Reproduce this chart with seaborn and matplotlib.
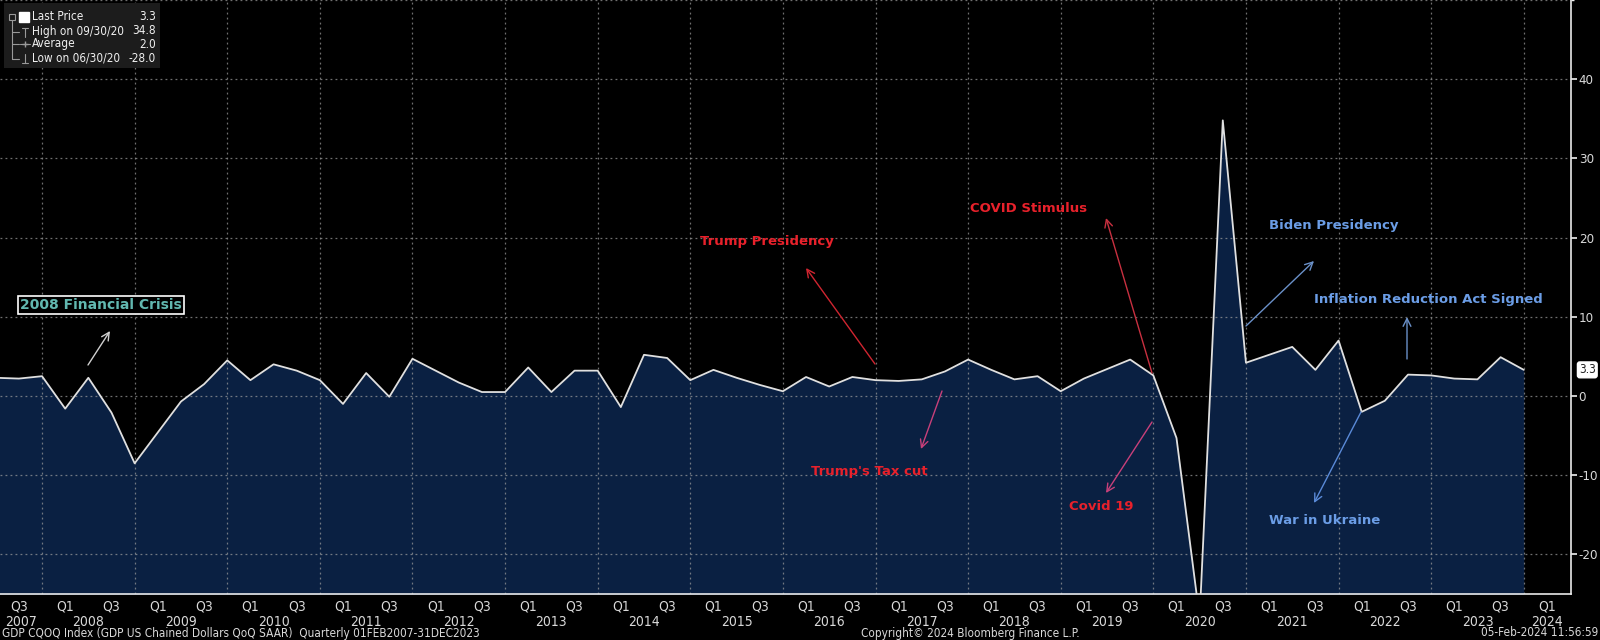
import numpy as np
import pandas as pd
import matplotlib
matplotlib.use("Agg")
import matplotlib.pyplot as plt
import seaborn as sns
from matplotlib.patches import Rectangle
from matplotlib.lines import Line2D
from matplotlib.ticker import FixedLocator

# ---------------- data ----------------
quarters = ["2007Q2", "2007Q3", "2007Q4",
            "2008Q1", "2008Q2", "2008Q3", "2008Q4",
            "2009Q1", "2009Q2", "2009Q3", "2009Q4",
            "2010Q1", "2010Q2", "2010Q3", "2010Q4",
            "2011Q1", "2011Q2", "2011Q3", "2011Q4",
            "2012Q1", "2012Q2", "2012Q3", "2012Q4",
            "2013Q1", "2013Q2", "2013Q3", "2013Q4",
            "2014Q1", "2014Q2", "2014Q3", "2014Q4",
            "2015Q1", "2015Q2", "2015Q3", "2015Q4",
            "2016Q1", "2016Q2", "2016Q3", "2016Q4",
            "2017Q1", "2017Q2", "2017Q3", "2017Q4",
            "2018Q1", "2018Q2", "2018Q3", "2018Q4",
            "2019Q1", "2019Q2", "2019Q3", "2019Q4",
            "2020Q1", "2020Q2", "2020Q3", "2020Q4",
            "2021Q1", "2021Q2", "2021Q3", "2021Q4",
            "2022Q1", "2022Q2", "2022Q3", "2022Q4",
            "2023Q1", "2023Q2", "2023Q3", "2023Q4"]
gdp_qoq = [2.3, 2.2, 2.5,
           -1.6, 2.3, -2.1, -8.5,
           -4.6, -0.7, 1.5, 4.5,
           2.0, 4.0, 3.2, 2.0,
           -1.0, 2.9, -0.1, 4.7,
           3.2, 1.7, 0.5, 0.5,
           3.6, 0.5, 3.2, 3.2,
           -1.4, 5.2, 4.8, 2.0,
           3.3, 2.3, 1.4, 0.6,
           2.4, 1.2, 2.4, 2.0,
           1.9, 2.1, 3.1, 4.6,
           3.3, 2.1, 2.5, 0.6,
           2.2, 3.4, 4.6, 2.6,
           -5.3, -28.0, 34.8, 4.2,
           5.2, 6.2, 3.3, 7.0,
           -2.0, -0.6, 2.7, 2.6,
           2.2, 2.1, 4.9, 3.3]
year_labels = list(range(2007, 2025))
y_ticks = [-20, -10, 0, 10, 20, 30, 40]
legend_rows = [("Last Price", "3.3"), ("High on 09/30/20", "34.8"),
               ("Average", "2.0"), ("Low on 06/30/20", "-28.0")]
last_price_label = "3.3"

def q_end(q):
    y, n = int(q[:4]), int(q[-1])
    return y + n * 0.25

df = pd.DataFrame({"t": [q_end(q) for q in quarters], "gdp": gdp_qoq})

# ---------------- style ----------------
sns.set_theme(style="dark")
plt.rcParams["font.family"] = ["DejaVu Sans"]
plt.rcParams["font.stretch"] = "condensed"
plt.rcParams["axes.unicode_minus"] = False
BOLD = ["DejaVu Sans"]

BG = "#000000"
FILL = "#0a2042"
TXT = "#d9d9d9"

fig = plt.figure(figsize=(16, 6.4), dpi=100, facecolor=BG)
ax = fig.add_axes([0, 1 - 594 / 640, 1571 / 1600, 594 / 640])
ax.set_facecolor(BG)

ax.fill_between(df["t"], df["gdp"], -40, color=FILL, zorder=1, linewidth=0)
sns.lineplot(data=df, x="t", y="gdp", ax=ax, color="#e0e0e0", linewidth=1.3,
             zorder=3, legend=False)

ax.set_xlim(2007.546, 2024.51)
ax.set_ylim(-25, 50)

ax.grid(False)
for v in range(-20, 51, 10):
    ax.axhline(v, color="#a0a0a0", linestyle=(0, (1.5, 2.5)), linewidth=0.9,
               alpha=0.7, zorder=2)
for yr in year_labels[1:]:
    ax.axvline(yr, color="#a0a0a0", linestyle=(0, (1.5, 2.5)), linewidth=0.9,
               alpha=0.7, zorder=2)

for s in ["left", "top"]:
    ax.spines[s].set_visible(False)
for s in ["right", "bottom"]:
    ax.spines[s].set_visible(True)
    ax.spines[s].set_color("#e8e8e8")
    ax.spines[s].set_linewidth(1.2)

ax.yaxis.tick_right()
ax.yaxis.set_major_locator(FixedLocator(y_ticks))
ax.yaxis.set_minor_locator(FixedLocator([v + 5 for v in range(-25, 50, 10)]))
ax.tick_params(axis="y", which="major", direction="out", length=4, width=1.2,
               colors="#f0f0f0", labelcolor=TXT, labelsize=9.5, pad=1.5)
ax.tick_params(axis="y", which="minor", direction="out", length=2, width=1,
               colors="#f0f0f0")
ax.set_ylabel("")
ax.set_xlabel("")

q_pos, q_lab = [], []
for yr in year_labels:
    for n, lab in [(1, "Q1"), (3, "Q3")]:
        p = yr + n * 0.25
        if 2007.546 < p < 2024.51:
            q_pos.append(p)
            q_lab.append(lab)
ax.set_xticks(q_pos)
ax.set_xticklabels(q_lab)
ax.xaxis.set_minor_locator(FixedLocator(year_labels[1:]))
ax.tick_params(axis="x", which="major", direction="out", length=3, width=1,
               colors="#e8e8e8", labelcolor=TXT, labelsize=10, pad=1)
ax.tick_params(axis="x", which="minor", direction="out", length=21, width=1,
               colors="#8a8a8a")

trans = ax.get_xaxis_transform()
lo, hi = ax.get_xlim()
for yr in year_labels:
    a, b = max(yr, lo), min(yr + 1, hi)
    ax.text((a + b) / 2, -0.036, str(yr), transform=trans, ha="center",
            va="top", color=TXT, fontsize=10, clip_on=False)

ax.text(1.005, 3.3, last_price_label, transform=ax.get_yaxis_transform(),
        ha="left", va="center", fontsize=8.5, color="#222222",
        bbox=dict(boxstyle="round,pad=0.12,rounding_size=0.2", fc="white", ec="white"))

fig.text(2 / 1600, 1 - 633 / 640,
         "GDP CQOQ Index (GDP US Chained Dollars QoQ SAAR)  Quarterly 01FEB2007-31DEC2023",
         ha="left", va="center", color=TXT, fontsize=8.5)
fig.text(861 / 1600, 1 - 633 / 640, "Copyright\u00a9 2024 Bloomberg Finance L.P.",
         ha="left", va="center", color=TXT, fontsize=8.5)
fig.text(1598 / 1600, 1 - 633 / 640, "05-Feb-2024 11:56:59",
         ha="right", va="center", color=TXT, fontsize=8.5)

def F(px, py):
    return (px / 1600, 1 - py / 640)

fig.patches.append(Rectangle(F(4, 68), 156 / 1600, 65 / 640,
                             transform=fig.transFigure, fc="#1c1c1c",
                             ec="none", zorder=5))
gl = "#9a9a9a"
fig.lines.append(Line2D([12 / 1600, 12 / 1600], [F(0, 20)[1], F(0, 59)[1]],
                        transform=fig.transFigure, color=gl, lw=0.8, zorder=6))
for yy in [32, 44, 59]:
    fig.lines.append(Line2D([12 / 1600, 19 / 1600], [F(0, yy)[1]] * 2,
                            transform=fig.transFigure, color=gl, lw=0.8, zorder=6))
fig.patches.append(Rectangle(F(9, 20), 6 / 1600, 6 / 640, transform=fig.transFigure,
                             fc="none", ec=gl, lw=0.8, zorder=6))
fig.patches.append(Rectangle(F(19, 22), 10 / 1600, 10 / 640, transform=fig.transFigure,
                             fc="white", ec="white", zorder=6))
fig.lines.append(Line2D([22 / 1600, 28 / 1600], [F(0, 28)[1]] * 2,
                        transform=fig.transFigure, color=gl, lw=0.8, zorder=6))
fig.lines.append(Line2D([25 / 1600, 25 / 1600], [F(0, 28)[1], F(0, 37)[1]],
                        transform=fig.transFigure, color=gl, lw=0.8, zorder=6))
fig.lines.append(Line2D([20 / 1600, 30 / 1600], [F(0, 44)[1]] * 2,
                        transform=fig.transFigure, color=gl, lw=0.8, zorder=6))
fig.lines.append(Line2D([25 / 1600], [F(0, 44)[1]], transform=fig.transFigure,
                        color=gl, marker="+", ms=4, zorder=6))
fig.lines.append(Line2D([22 / 1600, 28 / 1600], [F(0, 63)[1]] * 2,
                        transform=fig.transFigure, color=gl, lw=0.8, zorder=6))
fig.lines.append(Line2D([25 / 1600, 25 / 1600], [F(0, 54)[1], F(0, 63)[1]],
                        transform=fig.transFigure, color=gl, lw=0.8, zorder=6))
for (lab, val), yy in zip(legend_rows, [17, 31, 44, 58]):
    fig.text(*F(32, yy), lab, ha="left", va="center", color="#f0f0f0",
             fontsize=8.5, zorder=7)
    fig.text(*F(156, yy), val, ha="right", va="center", color="#f0f0f0",
             fontsize=8.5, zorder=7)

RED = "#e8212b"
BLUE = "#6b9de6"
TEAL = "#62b8b0"

def label(text, px, py, color, ha="center", box=False, size=9.5):
    kw = {}
    if box:
        kw["bbox"] = dict(boxstyle="square,pad=0.15", fc="black", ec="white", lw=1.2)
    fig.text(*F(px, py), text, ha=ha, va="center", color=color, fontsize=size,
             fontweight="bold", family=BOLD, fontstretch="normal", zorder=8, **kw)

def arrow(x0, y0, x1, y1, color):
    ax.annotate("", xy=F(x1, y1), xytext=F(x0, y0), xycoords="figure fraction",
                textcoords="figure fraction", annotation_clip=False,
                arrowprops=dict(arrowstyle="->", color=color, lw=1.0,
                                shrinkA=0, shrinkB=0, mutation_scale=14),
                zorder=8)

label("2008 Financial Crisis", 101, 305, TEAL, box=True, size=10)
arrow(88, 365, 110, 331, "#d0d0d0")

label("Trump Presidency", 767, 241, RED)
arrow(875, 364, 806, 268, "#d02530")

label("COVID Stimulus", 1029, 209, RED)
arrow(1152, 373, 1106, 218, "#c83040")

label("Trump's Tax cut", 869, 472, RED)
arrow(942, 391, 921, 449, "#c8407a")

label("Covid 19", 1101, 507, RED)
arrow(1152, 422, 1106, 493, "#c8407a")

label("Biden Presidency", 1334, 226, BLUE)
arrow(1246, 326, 1314, 261, "#6a90c8")

label("Inflation Reduction Act Signed", 1314, 300, BLUE, ha="left")
arrow(1407, 359, 1407, 317, "#6a90c8")

label("War in Ukraine", 1325, 520, BLUE)
arrow(1361, 412, 1314, 503, "#5a8ad8")

fig.savefig("out.png", dpi=100, facecolor=BG)
